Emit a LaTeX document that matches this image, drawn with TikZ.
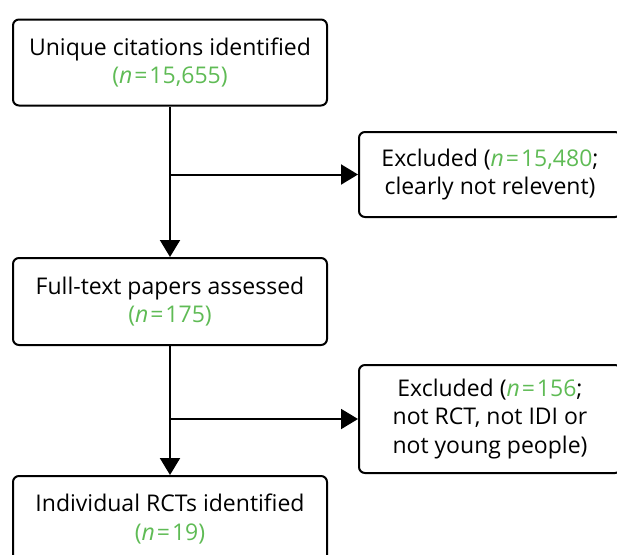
\documentclass[tikz,border=0pt]{standalone}
\usepackage{fontspec}
\setmainfont{Open Sans}
\usetikzlibrary{arrows.meta}
\definecolor{ngreen}{RGB}{95,187,85}
% sample size in green, italic n
\newcommand{\nval}[1]{\textcolor{ngreen}{\textit{n}\kern2pt=\kern2pt#1}}
\begin{document}
\begin{tikzpicture}[x=1pt,y=-1pt,
  box/.style={draw, line width=2pt, rounded corners=6pt, align=center,
    font=\fontsize{23}{28.5}\selectfont, inner sep=0pt},
  mainbox/.style={box, minimum width=314pt, minimum height=86pt},
  sidebox/.style={box, minimum width=262pt},
  flow/.style={line width=2pt, -{Triangle[length=17pt,width=20pt]}}]
\clip (0,0) rectangle (617,554);
\useasboundingbox (0,0) rectangle (617,554);

\node[mainbox] (b1) at (170,62.5)
  {Unique citations identified\\\textcolor{ngreen}{(\nval{15,655})}};
\node[sidebox, minimum height=85pt] (b2) at (490,174.5)
  {Excluded (\nval{15,480};\\clearly not relevent)};
\node[mainbox, minimum height=87pt] (b3) at (170,301.5)
  {Full-text papers assessed\\\textcolor{ngreen}{(\nval{175})}};
\node[sidebox, minimum height=108pt] (b4) at (490,419)
  {Excluded (\nval{156};\\not RCT, not IDI or\\not young people)};
\node[mainbox] (b5) at (170,519)
  {Individual RCTs identified\\\textcolor{ngreen}{(\nval{19})}};

\coordinate (j1) at (b1.south |- b2.west);
\coordinate (j2) at (b3.south |- b4.west);
\draw[flow] (b1.south) -- (b3.north);
\draw[flow] (j1) -- (b2.west);
\draw[flow] (b3.south) -- (b5.north);
\draw[flow] (j2) -- (b4.west);
\end{tikzpicture}
\end{document}
